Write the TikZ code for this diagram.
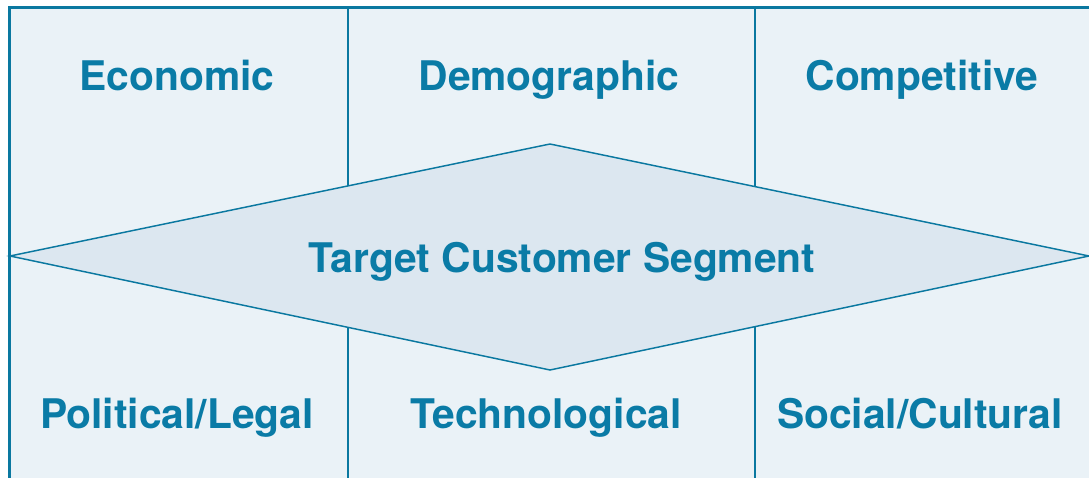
\documentclass[tikz,border=0pt]{standalone}
\usepackage{fontspec}
\setmainfont{TeX Gyre Heros}
\usetikzlibrary{positioning}
\definecolor{panelfill}{HTML}{EAF2F7}
\definecolor{diamondfill}{HTML}{DCE7F0}
\definecolor{lineblue}{HTML}{0A78A0}
\definecolor{textblue}{HTML}{0A7BA6}
\tikzset{
  factor/.style={anchor=base, inner sep=0pt, text=textblue, font=\fontsize{30.6}{36}\selectfont\bfseries},
  thinline/.style={draw=lineblue, line width=1.1pt},
}
\begin{document}
\begin{tikzpicture}[x=0.75pt,y=0.75pt,yscale=-1,xscale=1]
\useasboundingbox (0,0) rectangle (1089,478);

%Shape: Panel
\fill[panelfill] (9,8) rectangle (1089,478);
\draw[lineblue, line width=2.25pt] (9,478) -- (9,8) -- (1089,8);

%Diamond corners
\coordinate (dl) at (10,256);
\coordinate (dt) at (550,144);
\coordinate (dr) at (1089,256);
\coordinate (db) at (550,370);

%Divider ends
\coordinate (a1) at (348,9);
\coordinate (a2) at (348,186.6);
\coordinate (b1) at (755,9);
\coordinate (b2) at (755,186.6);
\coordinate (c1) at (348,327.4);
\coordinate (c2) at (348,478);
\coordinate (e1) at (755,326.6);
\coordinate (e2) at (755,478);

%Straight Lines
\draw[thinline] (a1) -- (a2);
\draw[thinline] (b1) -- (b2);
\draw[thinline] (c1) -- (c2);
\draw[thinline] (e1) -- (e2);

%Shape: Diamond
\draw[thinline, fill=diamondfill] (dl) -- (dt) -- (dr) -- (db) -- cycle;

% Text Node
\node[factor] (econ) at (177,90) {Economic};
% Text Node
\node[factor] (demo) at (549,90) {Demographic};
% Text Node
\node[factor] (comp) at (922,90) {Competitive};
% Text Node
\node[factor] (target) at (562,272) {Target Customer Segment};
% Text Node
\node[factor] (poli) at (177,428) {Political/Legal};
% Text Node
\node[factor] (tech) at (546,428) {Technological};
% Text Node
\node[factor] (soc) at (920,428) {Social/Cultural};
\end{tikzpicture}
\end{document}
